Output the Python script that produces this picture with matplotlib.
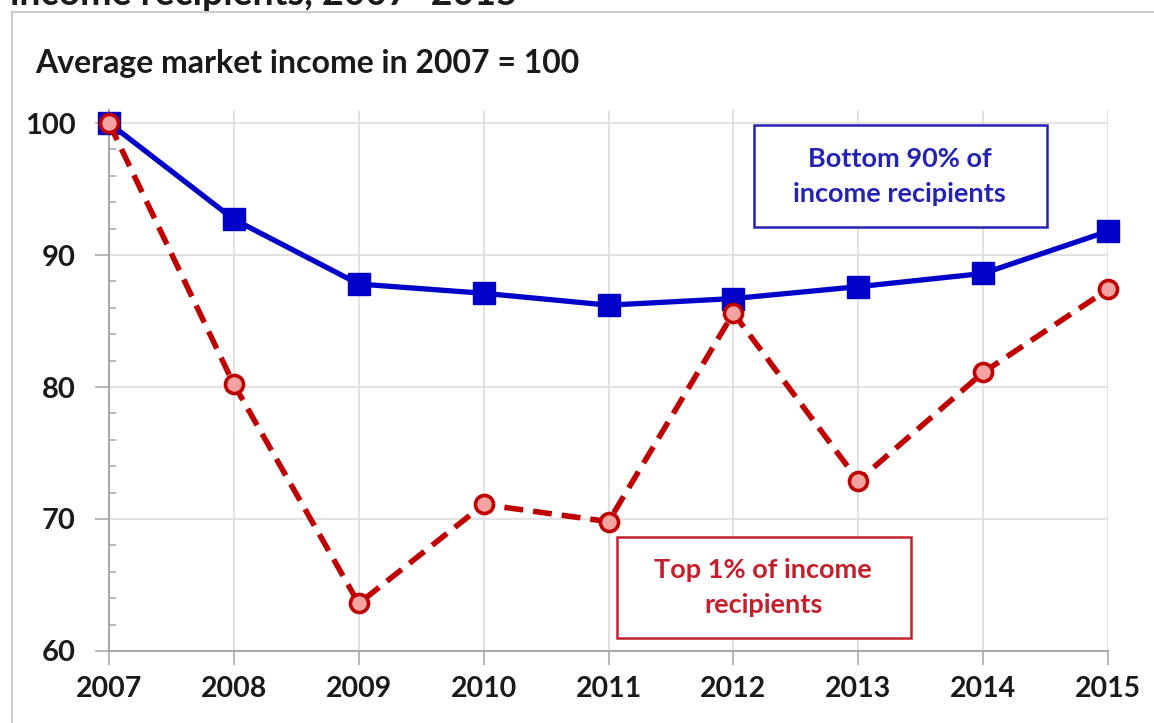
import matplotlib.pyplot as plt
from matplotlib.lines import Line2D
from matplotlib.patches import Rectangle
from matplotlib.ticker import MultipleLocator

years = [2007, 2008, 2009, 2010, 2011, 2012, 2013, 2014, 2015]
bottom90 = [100, 92.7, 87.8, 87.1, 86.2, 86.7, 87.6, 88.6, 91.8]
top1 = [100, 80.2, 63.6, 71.1, 69.8, 85.6, 72.9, 81.1, 87.4]

plt.rcParams['font.family'] = ['Lato', 'DejaVu Sans']
plt.rcParams['font.weight'] = 'bold'

W, H = 1154, 723
fig = plt.figure(figsize=(W / 100, H / 100), dpi=100)

# axes placed by pixel edges of the reference plot area
x0, x1 = 109, 1108
y_top, y_bot = 109.8, 651
ax = fig.add_axes([x0 / W, 1 - y_bot / H, (x1 - x0) / W, (y_bot - y_top) / H])

blue = '#0000C8'
red = '#C00000'

ax.plot(years, bottom90, color=blue, lw=3.8, marker='s', ms=15.5,
        mfc=blue, mec=blue, clip_on=False, zorder=3)
ax.plot(years, top1, color=red, lw=4, ls=(0, (3.4, 1.8)), marker='o', ms=13,
        mfc='#F4A3A3', mec=red, mew=2.6, clip_on=False, zorder=4)

ax.set_xlim(2007, 2015)
ax.set_ylim(60, 101)
ax.set_xticks(years)
ax.set_yticks([60, 70, 80, 90, 100])
ax.yaxis.set_minor_locator(MultipleLocator(2))
ax.grid(True, which='major', color='#DDDDDD', lw=1.2)
ax.set_axisbelow(True)

for s in ['top', 'right']:
    ax.spines[s].set_visible(False)
for s in ['left', 'bottom']:
    ax.spines[s].set_color('#AAAAAA')
    ax.spines[s].set_linewidth(1.5)

ax.tick_params(axis='x', which='major', direction='out', length=10, width=1.2,
               color='#AAAAAA', labelsize=20.5, pad=8)
ax.tick_params(axis='y', which='major', direction='out', length=10, width=1.2,
               color='#AAAAAA', labelsize=21, pad=14)
ax.tick_params(axis='y', which='minor', direction='in', length=5, width=1.2,
               color='#AAAAAA')
for lab in ax.get_xticklabels() + ax.get_yticklabels():
    lab.set_fontweight('bold')
    lab.set_color('#1A1A1A')

# label boxes
bcol = '#2424B4'
rcol = '#C4202C'
ax.add_patch(Rectangle((2012.165, 92.12), 2.345, 7.73, fc='white', ec=bcol,
                       lw=1.8, zorder=5))
ax.text(2013.33, 95.98, 'Bottom 90% of\nincome recipients', color=bcol,
        fontsize=19.5, fontweight='bold', ha='center', va='center',
        linespacing=1.55, zorder=6)
ax.add_patch(Rectangle((2011.07, 60.98), 2.35, 7.66, fc='white', ec=rcol,
                       lw=1.8, zorder=5))
ax.text(2012.24, 64.8, 'Top 1% of income\nrecipients', color=rcol,
        fontsize=19.5, fontweight='bold', ha='center', va='center',
        linespacing=1.55, zorder=6)

# subtitle and clipped title
fig.text(35 / W, 1 - 63 / H, 'Average market income in 2007 = 100', fontsize=23,
         fontweight='bold', color='#1A1A1A', va='center', ha='left')
fig.text(10 / W, 1 - 5 / H, 'income recipients, 2007–2015', fontsize=27,
         fontweight='bold', color='#1A1A1A', va='baseline', ha='left')

# light gray frame
fig.add_artist(Line2D([12 / W, 12 / W], [0, 1 - 12 / H], color='#CCCCCC', lw=1.5))
fig.add_artist(Line2D([12 / W, 1], [1 - 12 / H, 1 - 12 / H], color='#CCCCCC', lw=1.5))

fig.savefig('out.png', dpi=100)
